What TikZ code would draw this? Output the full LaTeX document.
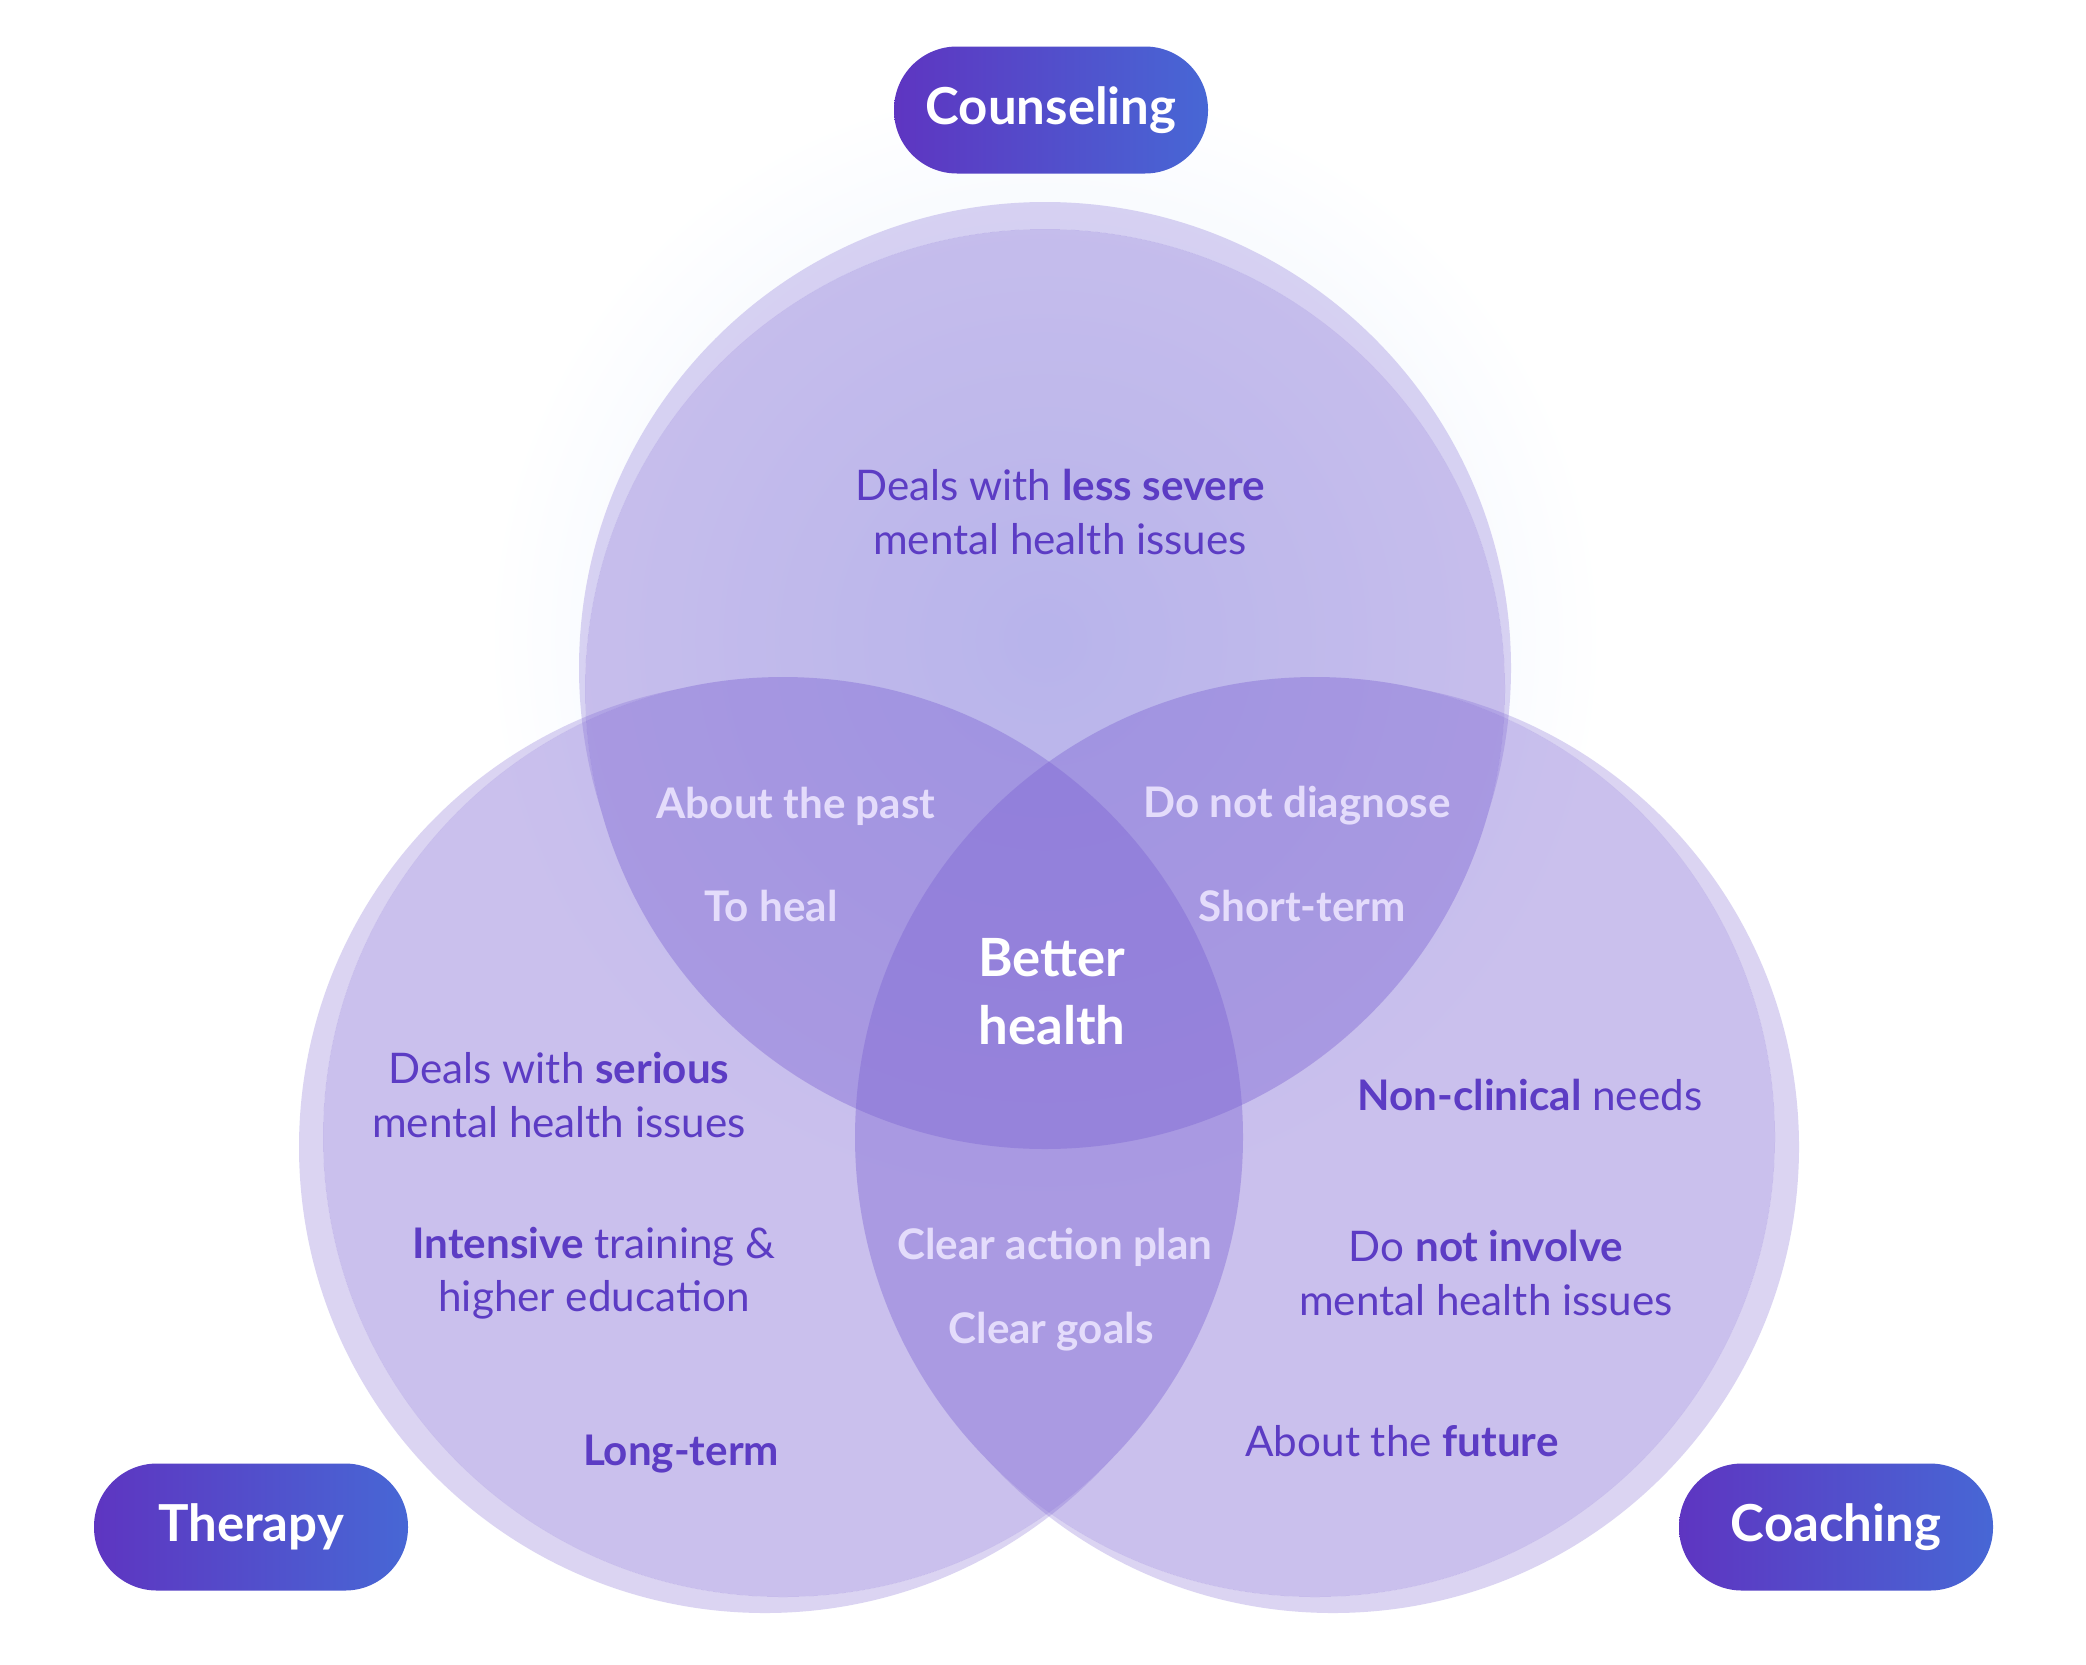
\documentclass[tikz,border=0pt]{standalone}
\usepackage{fontspec}
\setmainfont{Lato}
\usepackage{tikz}
\definecolor{vennfill}{RGB}{123,98,210}
\definecolor{txtdark}{RGB}{92,60,196}
\definecolor{txtlight}{RGB}{228,220,251}
\definecolor{pillleft}{RGB}{94,53,193}
\definecolor{pillright}{RGB}{71,103,213}
\definecolor{glowblue}{RGB}{225,235,252}
\tikzset{every picture/.style={x=0.1mm,y=0.1mm}}

\begin{document}
\begin{tikzpicture}[
    disk/.style={fill=vennfill, fill opacity=0.4},
    halo/.style={fill=vennfill, fill opacity=0.27},
    sidetext/.style={text=txtdark, align=center, font=\fontsize{12}{15.1}\selectfont},
    overlap/.style={text=txtlight, font=\bfseries\fontsize{12}{15}\selectfont},
    pill/.style={rounded corners=6.3mm, minimum width=31.4mm, minimum height=12.7mm,
        left color=pillleft, right color=pillright, text=white,
        font=\bfseries\fontsize{14.5}{17}\selectfont}]
    % Page
    \useasboundingbox (0,0) rectangle (2086,-1664);
    \fill[white] (0,0) rectangle (2086,-1664);

    % Define centres
    \coordinate (top) at (1045,-689);
    \coordinate (lft) at (783,-1137);
    \coordinate (rgt) at (1315,-1137);
    \coordinate (tophalo) at (1045,-668);
    \coordinate (lfthalo) at (765,-1147);
    \coordinate (rgthalo) at (1333,-1147);

    % Soft glow behind the top circle
    \shade[inner color=glowblue, outer color=white] (1045,-640) circle (560);

    % Rings round the circles
    \foreach \c in {top, lft, rgt} {
        \begin{scope}[even odd rule]
            \clip (0,0) rectangle (2086,-1664) (\c) circle (460);
            \fill[halo] (\c halo) circle (466);
        \end{scope}
    }

    % Circles
    \foreach \c in {top, lft, rgt} {
        \fill[disk] (\c) circle (460);
    }

    % Single regions
    \node[sidetext] (lesssevere) at (1060,-512) {Deals with \textbf{less severe}\\mental health issues};
    \node[sidetext] (serious) at (559,-1095) {Deals with \textbf{serious}\\mental health issues};
    \node[sidetext] (training) at (594,-1273) {\textbf{Intensive} training \&\\higher education};
    \node[sidetext] (longterm) at (681,-1454) {\textbf{Long-term}};
    \node[sidetext] (nonclinical) at (1530,-1095) {\textbf{Non-clinical} needs};
    \node[sidetext] (notinvolve) at (1486,-1273) {Do \textbf{not involve}\\mental health issues};
    \node[sidetext] (future) at (1402,-1441) {About the \textbf{future}};

    % Overlaps
    \node[overlap] (past) at (796,-806) {About the past};
    \node[overlap] (heal) at (771,-906) {To heal};
    \node[overlap] (diagnose) at (1297,-806) {Do not diagnose};
    \node[overlap] (shortterm) at (1302,-906) {Short-term};
    \node[overlap] (actionplan) at (1055,-1247) {Clear action plan};
    \node[overlap] (goals) at (1051,-1332) {Clear goals};
    \node[text=white, align=center, font=\bfseries\fontsize{15}{19.4}\selectfont] (better) at (1052,-992) {Better\\health};

    % Labels
    \node[pill] (counseling) at (1051,-110) {Counseling};
    \node[pill] (therapy) at (251,-1527) {Therapy};
    \node[pill] (coaching) at (1836,-1527) {Coaching};
\end{tikzpicture}
\end{document}
